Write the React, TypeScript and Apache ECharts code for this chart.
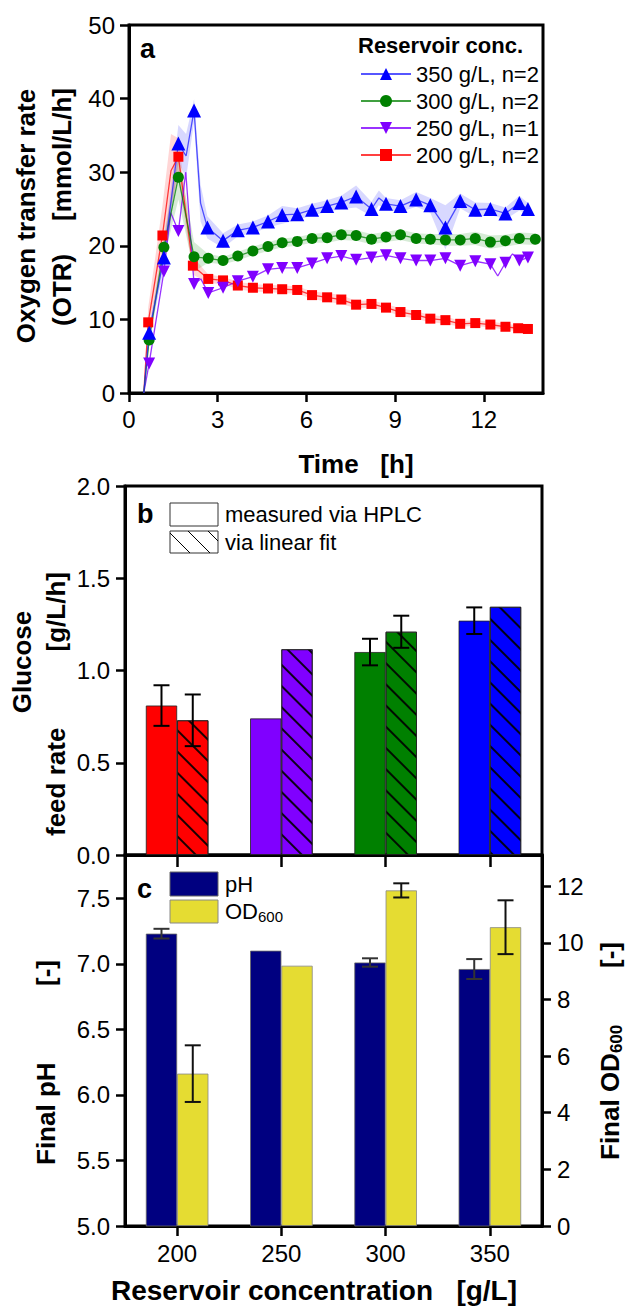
import React, { useEffect, useRef } from 'react';
import * as echarts from 'echarts';

const FONT = '"Liberation Sans", Arial, Helvetica, sans-serif';

// Panel a: [time (h), OTR (mmol/L/h), sd, marker shown (1) or not (0)]
const otr350 = [
  [0.5, 0, 0, 0], [0.68, 8.2, 0.8, 1], [1.18, 18.4, 1.5, 1], [1.67, 33.9, 2.5, 1], [1.93, 32.2, 3, 0],
  [2.2, 38.4, 1.5, 1], [2.42, 25.8, 2.5, 0], [2.65, 22.5, 1.5, 1], [3.18, 20.7, 1, 1], [3.68, 22.1, 0.8, 1],
  [4.19, 22.5, 0.8, 1], [4.7, 23.3, 0.8, 1], [5.18, 24.2, 1.2, 1], [5.69, 24.3, 0.8, 1], [6.19, 24.9, 0.8, 1],
  [6.7, 25.4, 0.8, 1], [7.18, 25.9, 0.9, 1], [7.68, 26.7, 1.5, 1], [8.2, 25.0, 1, 1], [8.45, 26.5, 1, 0],
  [8.69, 25.7, 0.8, 1], [9.18, 25.4, 0.8, 1], [9.71, 26.3, 1, 1], [10.19, 25.5, 1, 1], [10.7, 22.5, 3, 1],
  [11.2, 26.1, 1, 1], [11.71, 24.9, 1, 1], [12.22, 25.0, 0.8, 1], [12.73, 24.4, 0.8, 1], [13.2, 25.8, 1, 1],
  [13.49, 25.0, 0.8, 1],
];
const otr300 = [
  [0.5, 0, 0, 0], [0.68, 7.2, 0.8, 1], [1.18, 19.8, 1.5, 1], [1.67, 29.3, 3, 1], [2.2, 18.5, 2, 1],
  [2.68, 18.3, 0.6, 1], [3.18, 18.0, 0.5, 1], [3.68, 18.6, 0.6, 1], [4.19, 19.3, 0.6, 1], [4.7, 19.9, 0.6, 1],
  [5.18, 20.4, 0.6, 1], [5.69, 20.6, 0.6, 1], [6.19, 21.0, 0.6, 1], [6.7, 21.1, 0.7, 1], [7.18, 21.5, 0.7, 1],
  [7.68, 21.4, 0.7, 1], [8.2, 20.9, 0.7, 1], [8.69, 21.2, 0.7, 1], [9.18, 21.5, 0.7, 1], [9.71, 21.0, 0.7, 1],
  [10.19, 20.9, 0.7, 1], [10.7, 20.8, 0.8, 1], [11.2, 20.8, 0.8, 1], [11.71, 21.0, 0.9, 1], [12.22, 20.5, 0.9, 1],
  [12.73, 20.7, 0.8, 1], [13.2, 21.0, 0.8, 1], [13.74, 20.9, 0.8, 1],
];
// n=1: no band
const otr250 = [
  [0.5, 0, 0, 0], [0.68, 4.0, 0, 1], [1.18, 16.5, 0, 1], [1.41, 24.5, 0, 0], [1.67, 22.0, 0, 1],
  [1.92, 30.0, 0, 0], [2.2, 14.8, 0, 1], [2.43, 15.5, 0, 0], [2.68, 13.6, 0, 1], [3.18, 14.3, 0, 1],
  [3.68, 15.2, 0, 1], [4.19, 15.8, 0, 1], [4.7, 16.8, 0, 1], [5.18, 17.0, 0, 1], [5.69, 17.0, 0, 1],
  [6.19, 17.6, 0, 1], [6.7, 18.3, 0, 1], [7.18, 18.6, 0, 1], [7.68, 18.1, 0, 1], [8.2, 18.4, 0, 1],
  [8.69, 18.7, 0, 1], [9.18, 18.3, 0, 1], [9.71, 18.0, 0, 1], [10.19, 18.0, 0, 1], [10.7, 18.3, 0, 1],
  [11.2, 17.3, 0, 1], [11.71, 17.9, 0, 1], [12.22, 17.5, 0, 1], [12.47, 15.9, 0, 0], [12.73, 17.7, 0, 1],
  [12.97, 18.9, 0, 0], [13.2, 18.0, 0, 1], [13.49, 18.4, 0, 1],
];
const otr200 = [
  [0.5, 0, 0, 0], [0.65, 9.6, 2, 1], [1.13, 21.4, 4, 1], [1.42, 30.2, 5, 0], [1.67, 32.1, 2.5, 1],
  [2.16, 17.3, 1.2, 1], [2.68, 15.5, 0.6, 1], [3.18, 15.3, 0.5, 1], [3.68, 14.6, 0.5, 1], [4.19, 14.3, 0.5, 1],
  [4.7, 14.2, 0.5, 1], [5.18, 14.1, 0.5, 1], [5.69, 14.0, 0.5, 1], [6.19, 13.3, 0.5, 1], [6.7, 13.0, 0.6, 1],
  [7.18, 12.7, 0.6, 1], [7.68, 12.0, 0.5, 1], [8.2, 12.1, 0.5, 1], [8.69, 11.6, 0.5, 1], [9.18, 11.0, 0.5, 1],
  [9.71, 10.6, 0.5, 1], [10.19, 10.1, 0.5, 1], [10.7, 9.9, 0.5, 1], [11.2, 9.4, 0.4, 1], [11.71, 9.5, 0.4, 1],
  [12.22, 9.3, 0.4, 1], [12.73, 9.0, 0.4, 1], [13.16, 8.8, 0.4, 1], [13.49, 8.7, 0.4, 1],
];

const seriesNames = ['350 g/L, n=2', '300 g/L, n=2', '250 g/L, n=1', '200 g/L, n=2'];

// Panels b and c
const concCategories = ['200', '250', '300', '350'];
const concColors = ['#FF0000', '#8000FF', '#008000', '#0000FF'];
const feedHplc = [0.81, 0.74, 1.10, 1.27];
const feedHplcErr = [0.11, 0, 0.072, 0.072];
const feedFit = [0.73, 1.115, 1.21, 1.345];
const feedFitErr = [0.14, 0, 0.087, 0];
const finalPh = [7.23, 7.10, 7.01, 6.96];
const finalPhErr = [0.037, 0, 0.032, 0.076];
const finalOd = [5.38, 9.19, 11.85, 10.55];
const finalOdErr = [1.0, 0, 0.25, 0.95];

const timeTicks = [0, 3, 6, 9, 12];
const phTicks = [5.0, 5.5, 6.0, 6.5, 7.0, 7.5];
const odTicks = [0, 2, 4, 6, 8, 10, 12];

const AX = '#000';

function bandSeries(rows: number[][], color: string) {
  return {
    type: 'custom',
    xAxisIndex: 0,
    yAxisIndex: 0,
    silent: true,
    z: 1,
    data: rows.map((r) => [r[0], r[1] - r[2], r[1] + r[2]]),
    encode: { x: 0, y: [1, 2] },
    renderItem: (params: any, api: any) => {
      if (params.dataIndex !== 0) return null;
      const up = rows.map((r) => api.coord([r[0], r[1] + r[2]]));
      const lo = rows.map((r) => api.coord([r[0], r[1] - r[2]])).reverse();
      return {
        type: 'polygon',
        shape: { points: up.concat(lo) },
        style: { fill: color, stroke: 'none' },
      };
    },
  };
}

function lineSeries(name: string, rows: number[][], color: string, lineColor: string, symbol: string, size: number) {
  return {
    type: 'line',
    name,
    xAxisIndex: 0,
    yAxisIndex: 0,
    z: 5,
    symbol,
    symbolSize: size,
    showAllSymbol: true,
    color,
    itemStyle: { color },
    lineStyle: { color: lineColor, width: 1.3 },
    data: rows.map((r) => (r[3] ? { value: [r[0], r[1]] } : { value: [r[0], r[1]], symbol: 'none' })),
  };
}

function errSeries(xi: number, yi: number, vals: number[], errs: number[], side: number, stroke: string) {
  return {
    type: 'custom',
    xAxisIndex: xi,
    yAxisIndex: yi,
    silent: true,
    z: 10,
    data: vals.map((v, i) => [i, v - errs[i], v + errs[i]]),
    encode: { x: 0, y: [1, 2] },
    renderItem: (params: any, api: any) => {
      const lo = api.value(1);
      const hi = api.value(2);
      if (!(hi - lo > 0)) return null;
      const band = api.size([1, 0])[0];
      const barW = (band * 0.6) / 2;
      const pLo = api.coord([api.value(0), lo]);
      const pHi = api.coord([api.value(0), hi]);
      const x = pLo[0] + (side * barW) / 2;
      const cap = 8;
      const st = { stroke, lineWidth: 2 };
      return {
        type: 'group',
        children: [
          { type: 'line', shape: { x1: x, y1: pLo[1], x2: x, y2: pHi[1] }, style: st },
          { type: 'line', shape: { x1: x - cap, y1: pLo[1], x2: x + cap, y2: pLo[1] }, style: st },
          { type: 'line', shape: { x1: x - cap, y1: pHi[1], x2: x + cap, y2: pHi[1] }, style: st },
        ],
      };
    },
  };
}

function hatchLines(rx: number, ry: number, rw: number, rh: number, s: number) {
  const out: any[] = [];
  for (let c = -rh; c < rw; c += s) {
    let x1 = rx + c, y1 = ry, x2 = rx + c + rh, y2 = ry + rh;
    if (x1 < rx) { y1 += rx - x1; x1 = rx; }
    if (x2 > rx + rw) { y2 -= x2 - (rx + rw); x2 = rx + rw; }
    if (x2 - x1 > 0.5) {
      out.push({ type: 'line', shape: { x1, y1, x2, y2 }, style: { stroke: '#000', lineWidth: 1 }, z: 20 });
    }
  }
  return out;
}

function txt(text: string, x: number, y: number, size: number, bold: boolean, align = 'left', rotation = 0) {
  return {
    type: 'text',
    x,
    y,
    rotation,
    z: 20,
    style: {
      text,
      fontFamily: FONT,
      fontSize: size,
      fontWeight: bold ? 'bold' : 'normal',
      fill: '#000',
      align,
      verticalAlign: 'middle',
    },
  };
}

// vertical (bottom-to-top) bold title piece; align 'left' = anchored at its bottom end, 'right' = at its top end
const vt = (text: string, x: number, y: number, align: string) => txt(text, x, y, 26, true, align, Math.PI / 2);

const tickLabel = { color: '#000', fontSize: 24, fontFamily: FONT };
const axisLine = { show: true, onZero: false, lineStyle: { color: AX, width: 3 } };
const axisTick = { show: true, inside: false, length: 9, lineStyle: { color: AX, width: 2.5 } };

export default function App() {
  const ref = useRef<HTMLDivElement>(null);
  useEffect(() => {
    if (!ref.current) return;
    const chart = echarts.init(ref.current, undefined, { renderer: 'svg' });
    const decal = {
      symbol: 'rect',
      symbolSize: 1,
      color: 'rgba(0,0,0,0.9)',
      dashArrayX: [1, 0],
      dashArrayY: [1.2, 13],
      rotation: Math.PI / 4,
    };
    const option: any = {
      animation: false,
      backgroundColor: '#fff',
      textStyle: { fontFamily: FONT },
      grid: [
        { left: 129, top: 25, width: 414, height: 368, show: true, borderColor: AX, borderWidth: 3, backgroundColor: 'transparent' },
        { left: 125, top: 486, width: 417, height: 369, show: true, borderColor: AX, borderWidth: 3, backgroundColor: 'transparent' },
        { left: 125, top: 855, width: 417, height: 371, show: true, borderColor: AX, borderWidth: 3, backgroundColor: 'transparent' },
      ],
      xAxis: [
        {
          gridIndex: 0, type: 'value', min: 0, max: 14,
          axisLine, axisTick: { ...axisTick, customValues: timeTicks },
          axisLabel: { ...tickLabel, margin: 14, customValues: timeTicks },
          splitLine: { show: false },
        },
        {
          gridIndex: 1, type: 'category', data: concCategories,
          axisLine, axisTick: { ...axisTick, length: 12, alignWithLabel: true },
          axisLabel: { show: false }, splitLine: { show: false },
        },
        {
          gridIndex: 2, type: 'category', data: concCategories,
          axisLine, axisTick: { ...axisTick, length: 10, alignWithLabel: true },
          axisLabel: { ...tickLabel, margin: 15 }, splitLine: { show: false },
        },
      ],
      yAxis: [
        {
          gridIndex: 0, type: 'value', min: 0, max: 50, interval: 10,
          axisLine, axisTick, axisLabel: { ...tickLabel, margin: 14 }, splitLine: { show: false },
        },
        {
          gridIndex: 1, type: 'value', min: 0, max: 2, interval: 0.5,
          axisLine, axisTick,
          axisLabel: { ...tickLabel, margin: 15, formatter: (v: number) => v.toFixed(1) },
          splitLine: { show: false },
        },
        {
          gridIndex: 2, type: 'value', min: 5, max: 7.83,
          axisLine, axisTick: { ...axisTick, customValues: phTicks },
          axisLabel: { ...tickLabel, margin: 15, customValues: phTicks, formatter: (v: number) => v.toFixed(1) },
          splitLine: { show: false },
        },
        {
          gridIndex: 2, type: 'value', min: 0, max: 13.1, position: 'right',
          axisLine, axisTick: { ...axisTick, customValues: odTicks },
          axisLabel: { ...tickLabel, margin: 15, customValues: odTicks },
          splitLine: { show: false },
        },
      ],
      legend: {
        data: seriesNames,
        orient: 'vertical',
        left: 355,
        top: 58,
        itemWidth: 50,
        itemHeight: 15,
        itemGap: 5,
        selectedMode: false,
        textStyle: { color: '#000', fontSize: 22, fontFamily: FONT, lineHeight: 22 },
      },
      series: [
        bandSeries(otr350, 'rgba(40,40,255,0.18)'),
        bandSeries(otr300, 'rgba(0,128,0,0.16)'),
        bandSeries(otr200, 'rgba(255,0,0,0.16)'),
        lineSeries(seriesNames[3], otr200, '#FF0000', 'rgba(255,0,0,0.75)', 'rect', 10),
        lineSeries(seriesNames[2], otr250, '#8000FF', 'rgba(128,0,255,0.8)', 'path://M0,0 L10,0 L5,9 Z', 12),
        lineSeries(seriesNames[1], otr300, '#008000', 'rgba(0,128,0,0.75)', 'circle', 11),
        lineSeries(seriesNames[0], otr350, '#0000FF', 'rgba(30,30,255,0.75)', 'triangle', 14),
        {
          type: 'bar', name: 'measured via HPLC', xAxisIndex: 1, yAxisIndex: 1,
          barGap: '0%', barCategoryGap: '40%',
          itemStyle: { borderColor: '#222', borderWidth: 0.8 },
          data: feedHplc.map((v, i) => ({ value: v, itemStyle: { color: concColors[i] } })),
        },
        {
          type: 'bar', name: 'via linear fit', xAxisIndex: 1, yAxisIndex: 1,
          barGap: '0%', barCategoryGap: '40%',
          itemStyle: { borderColor: '#222', borderWidth: 0.8, decal },
          data: feedFit.map((v, i) => ({ value: v, itemStyle: { color: concColors[i], decal } })),
        },
        errSeries(1, 1, feedHplc, feedHplcErr, -1, '#000'),
        errSeries(1, 1, feedFit, feedFitErr, 1, '#000'),
        {
          type: 'bar', name: 'pH', xAxisIndex: 2, yAxisIndex: 2,
          barGap: '0%', barCategoryGap: '40%',
          itemStyle: { color: '#000080', borderColor: '#666', borderWidth: 0.8 },
          data: finalPh,
        },
        {
          type: 'bar', name: 'OD600', xAxisIndex: 2, yAxisIndex: 3,
          barGap: '0%', barCategoryGap: '40%',
          itemStyle: { color: '#E5DC32', borderColor: '#888', borderWidth: 0.8 },
          data: finalOd,
        },
        errSeries(2, 2, finalPh, finalPhErr, -1, '#333'),
        errSeries(2, 3, finalOd, finalOdErr, 1, '#111'),
      ],
      graphic: [
        // panel labels
        txt('a', 140, 49, 27, true),
        txt('b', 137, 514, 27, true),
        txt('c', 137, 889, 27, true),
        // panel a legend title
        txt('Reservoir conc.', 358, 45, 22, true),
        // axis titles
        txt('Oxygen transfer rate', 26, 216, 26, true, 'center', Math.PI / 2),
        vt('(OTR)', 62, 326, 'left'),
        vt('[mmol/L/h]', 62, 88, 'right'),
        txt('Time   [h]', 356, 464, 26, true, 'center'),
        txt('Glucose', 22, 662, 26, true, 'center', Math.PI / 2),
        vt('feed rate', 56, 836, 'left'),
        vt('[g/L/h]', 56, 572, 'right'),
        vt('Final pH', 46, 1165, 'left'),
        vt('[-]', 46, 960, 'right'),
        {
          type: 'text', x: 610, y: 1160, rotation: Math.PI / 2, z: 20,
          style: {
            text: '{b|Final OD}{s|600}',
            rich: {
              b: { fontSize: 26, fontWeight: 'bold', fontFamily: FONT, fill: '#000' },
              s: { fontSize: 17, fontWeight: 'bold', fontFamily: FONT, fill: '#000', padding: [12, 0, 0, 0] },
            },
            align: 'left', verticalAlign: 'middle',
          },
        },
        vt('[-]', 610, 942, 'right'),
        txt('Reservoir concentration   [g/L]', 314, 1290, 28, true, 'center'),
        // panel b legend
        { type: 'rect', shape: { x: 170, y: 503, width: 48, height: 23 }, style: { fill: '#fff', stroke: '#333', lineWidth: 1 }, z: 19 },
        { type: 'rect', shape: { x: 170, y: 531, width: 48, height: 22 }, style: { fill: '#fff', stroke: '#333', lineWidth: 1 }, z: 19 },
        ...hatchLines(170, 531, 48, 22, 20),
        txt('measured via HPLC', 225, 514, 22, false),
        txt('via linear fit', 225, 542, 22, false),
        // panel c legend
        { type: 'rect', shape: { x: 170, y: 872, width: 48, height: 24 }, style: { fill: '#000080', stroke: '#666', lineWidth: 1 }, z: 19 },
        { type: 'rect', shape: { x: 170, y: 900, width: 48, height: 23 }, style: { fill: '#E5DC32', stroke: '#888', lineWidth: 1 }, z: 19 },
        txt('pH', 225, 884, 22, false),
        {
          type: 'text', x: 225, y: 911, z: 20,
          style: {
            text: '{b|OD}{s|600}',
            rich: {
              b: { fontSize: 22, fontFamily: FONT, fill: '#000' },
              s: { fontSize: 15, fontFamily: FONT, fill: '#000', padding: [10, 0, 0, 0] },
            },
            align: 'left', verticalAlign: 'middle',
          },
        },
      ],
    };
    chart.setOption(option);
    return () => chart.dispose();
  }, []);
  return (
    <div
      ref={ref}
      style={{ position: 'absolute', left: 0, top: 0, width: 627, height: 1309, background: '#fff' }}
    />
  );
}
